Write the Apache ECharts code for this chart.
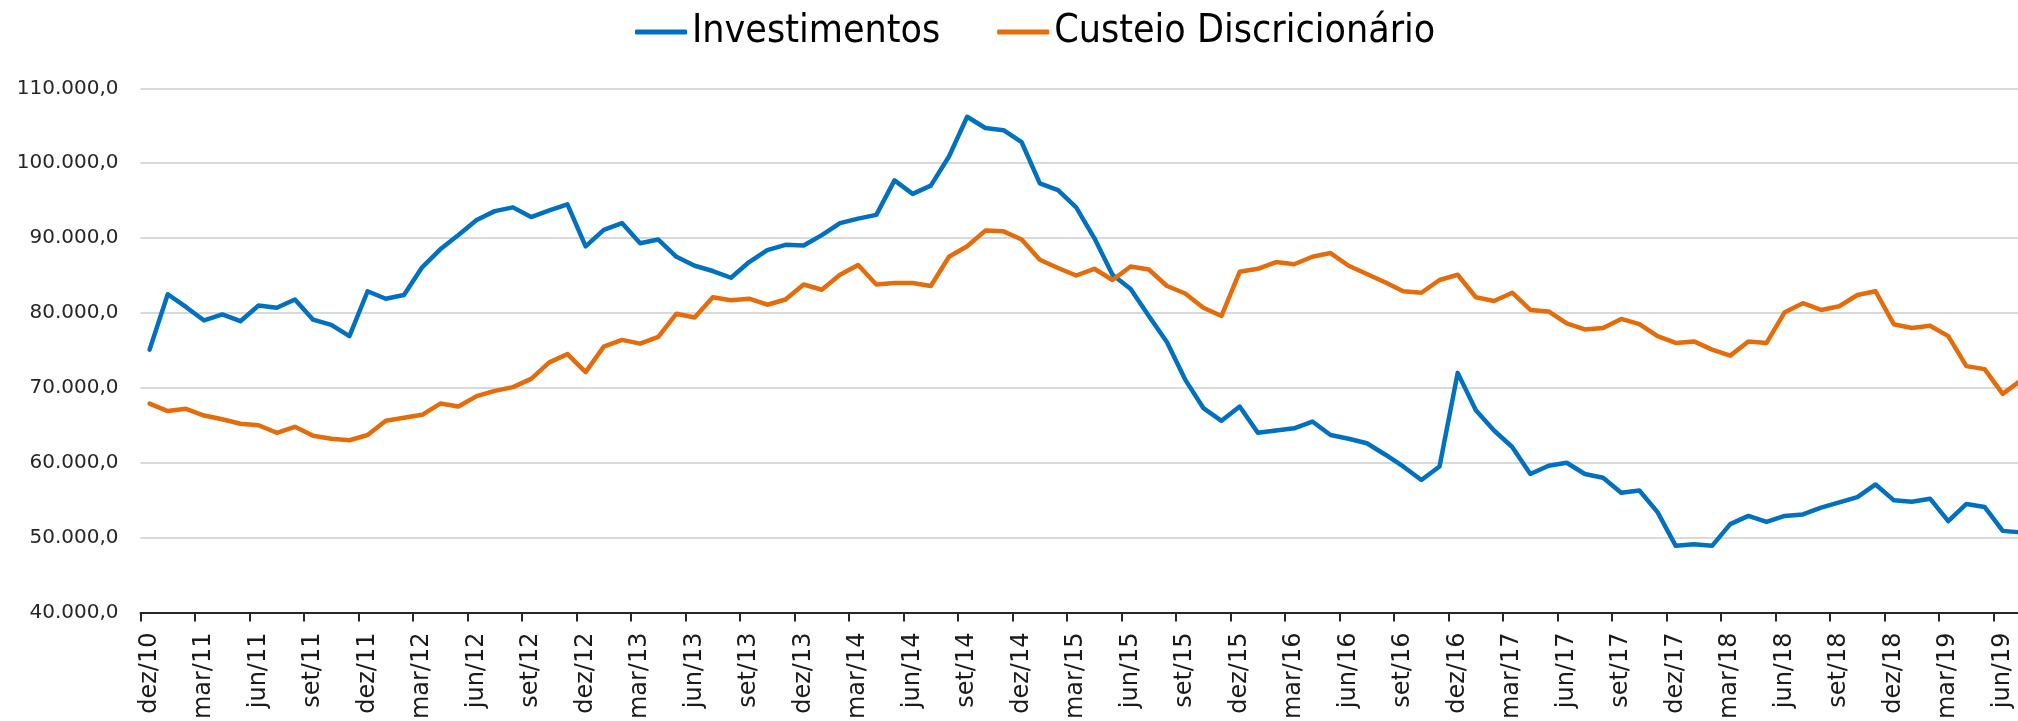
<!DOCTYPE html>
<html>
<head>
<meta charset="utf-8">
<script src="https://cdn.jsdelivr.net/npm/echarts@6/dist/echarts.min.js"></script>
<style>
html,body{margin:0;padding:0;background:#fff;overflow:hidden;width:2018px;height:721px;}
#chart{width:2030px;height:721px;}
</style>
</head>
<body>
<div id="chart"></div>
<script>
// Categories (monthly, dez/10 .. jul/19)
const categories = [
 'dez/10',
 'jan/11','fev/11','mar/11','abr/11','mai/11','jun/11','jul/11','ago/11','set/11','out/11','nov/11','dez/11',
 'jan/12','fev/12','mar/12','abr/12','mai/12','jun/12','jul/12','ago/12','set/12','out/12','nov/12','dez/12',
 'jan/13','fev/13','mar/13','abr/13','mai/13','jun/13','jul/13','ago/13','set/13','out/13','nov/13','dez/13',
 'jan/14','fev/14','mar/14','abr/14','mai/14','jun/14','jul/14','ago/14','set/14','out/14','nov/14','dez/14',
 'jan/15','fev/15','mar/15','abr/15','mai/15','jun/15','jul/15','ago/15','set/15','out/15','nov/15','dez/15',
 'jan/16','fev/16','mar/16','abr/16','mai/16','jun/16','jul/16','ago/16','set/16','out/16','nov/16','dez/16',
 'jan/17','fev/17','mar/17','abr/17','mai/17','jun/17','jul/17','ago/17','set/17','out/17','nov/17','dez/17',
 'jan/18','fev/18','mar/18','abr/18','mai/18','jun/18','jul/18','ago/18','set/18','out/18','nov/18','dez/18',
 'jan/19','fev/19','mar/19','abr/19','mai/19','jun/19','jul/19'
];

// Investimentos (R$ milhões)
const investimentos = [
 75100,
 82500,80800,79000,79800,78900,81000,80700,81800,79100,78400,76900,82900,
 81900,82400,86100,88500,90400,92400,93600,94100,92800,93700,94500,88900,
 91100,92000,89300,89800,87500,86300,85600,84700,86800,88400,89100,89000,
 90400,92000,92600,93100,97700,95900,97000,100900,106200,104700,104400,102800,
 97300,96400,94100,90000,85100,83200,79600,76100,71100,67300,65600,67500,
 64000,64300,64600,65500,63700,63200,62600,61100,59500,57700,59500,72000,
 67000,64300,62100,58500,59600,60000,58500,58000,56000,56300,53400,48900,
 49100,48900,51800,52900,52100,52900,53100,54000,54700,55400,57100,55000,
 54800,55200,52200,54500,54100,50900,50700
];

// Custeio Discricionário (R$ milhões)
const custeio = [
 67900,
 66900,67200,66300,65800,65200,65000,64000,64800,63600,63200,63000,63700,
 65600,66000,66400,67900,67500,68900,69600,70100,71200,73400,74500,72100,
 75500,76400,75900,76800,79900,79400,82100,81700,81900,81100,81800,83800,
 83100,85100,86400,83800,84000,84000,83600,87500,88900,91000,90900,89800,
 87100,86000,85000,85900,84400,86200,85800,83600,82600,80700,79600,85500,
 85900,86800,86500,87500,88000,86300,85200,84100,82900,82700,84400,85100,
 82100,81600,82700,80400,80200,78600,77800,78000,79200,78500,76900,76000,
 76200,75100,74300,76200,76000,80100,81300,80400,80900,82400,82900,78500,
 78000,78300,76900,72900,72500,69200,71000
];

// Y-axis ticks
const yMin = 40000, yMax = 110000, yStep = 10000;

function fmtBR(v){
  const s = Math.round(v).toString().replace(/\B(?=(\d{3})+(?!\d))/g, '.');
  return s + ',0';
}

const chart = echarts.init(document.getElementById('chart'), null, {renderer:'canvas'});
chart.setOption({
  animation: false,
  backgroundColor: '#ffffff',
  legend: {
    left: 630,
    top: 5,
    itemWidth: 52,
    itemHeight: 5,
    itemGap: 57,
    icon: 'roundRect',
    textStyle: {
      fontFamily: '"DejaVu Sans Condensed", "DejaVu Sans"',
      fontSize: 39,
      color: '#000000',
      lineHeight: 44
    },
    data: ['Investimentos', 'Custeio Discricionário']
  },
  grid: {
    left: 140.5,
    right: 0,
    top: 88.3,
    bottom: 108.5,
    containLabel: false,
    outerBoundsMode: 'none'
  },
  xAxis: {
    type: 'category',
    data: categories,
    boundaryGap: true,
    axisLine: { show: true, lineStyle: { color: '#262626', width: 2 } },
    axisTick: { show: true, interval: 2, length: 9, alignWithLabel: false, lineStyle: { color: '#262626', width: 2 } },
    axisLabel: {
      interval: 2,
      rotate: 90,
      margin: 20,
      fontFamily: '"DejaVu Sans"',
      fontSize: 24,
      color: '#1a1a1a'
    },
    splitLine: { show: false }
  },
  yAxis: {
    type: 'value',
    min: yMin,
    max: yMax,
    interval: yStep,
    axisLine: { show: false },
    axisTick: { show: false },
    axisLabel: {
      margin: 22,
      fontFamily: '"DejaVu Sans"',
      fontSize: 20,
      color: '#262626',
      formatter: fmtBR
    },
    splitLine: { show: true, lineStyle: { color: '#d9d9d9', width: 2 } }
  },
  series: [
    {
      name: 'Investimentos',
      type: 'line',
      data: investimentos,
      symbol: 'none',
      color: '#0070c0',
      lineStyle: { color: '#0070c0', width: 4.5, cap: 'round', join: 'round' }
    },
    {
      name: 'Custeio Discricionário',
      type: 'line',
      data: custeio,
      symbol: 'none',
      color: '#e46c0a',
      lineStyle: { color: '#e46c0a', width: 4.5, cap: 'round', join: 'round' }
    }
  ]
});
</script>
</body>
</html>
